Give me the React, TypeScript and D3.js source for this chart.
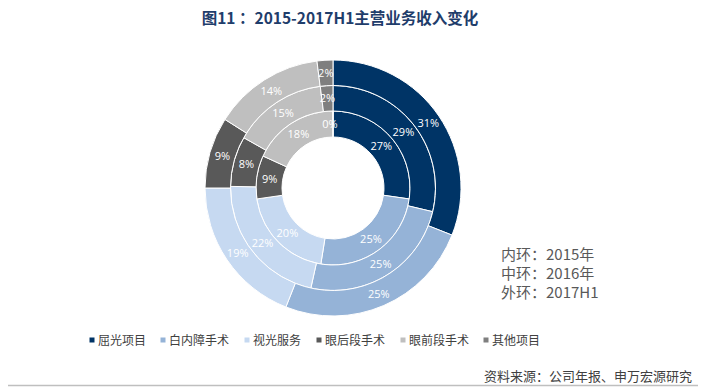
import React from "react";
import * as d3 from "d3";

const categories = ["屈光项目", "白内障手术", "视光服务", "眼后段手术", "眼前段手术", "其他项目"];
const colors = ["#003466", "#95b3d7", "#c6d9f1", "#595959", "#bfbfbf", "#7f7f7f"];
const inner2015 = [27, 25, 20, 9, 18, 0];
const middle2016 = [29, 25, 22, 8, 15, 2];
const outer2017H1 = [31, 25, 19, 9, 14, 2];
const ringNotes = ["内环：2015年", "中环：2016年", "外环：2017H1"];

const W = 706;
const H = 387;
const cx = 333;
const cy = 188;
const rings = [
  { data: inner2015, r0: 51, r1: 77 },
  { data: middle2016, r0: 77, r1: 102.5 },
  { data: outer2017H1, r0: 102.5, r1: 128 },
];
const legendX = [92, 163, 247, 319, 403, 486];
const font = "'Noto Sans CJK SC', 'Noto Sans', sans-serif";

export default function App() {
  const pie = d3.pie<number>().sort(null).value((d) => d);
  return (
    <svg width={W} height={H} style={{ position: "absolute", left: 0, top: 0, background: "#fff" }} fontFamily={font}>
      <text x={340} y={24} textAnchor="middle" fontSize={15.5} fontWeight="bold" fill="#1f3d6b">
        图11 ：2015-2017H1主营业务收入变化
      </text>
      <g transform={`translate(${cx},${cy})`}>
        {rings.map((ring, ri) => {
          const arcs = pie(ring.data);
          const arc = d3.arc<d3.PieArcDatum<number>>().innerRadius(ring.r0).outerRadius(ring.r1);
          return (
            <g key={ri}>
              {arcs.map((a, i) => (
                <path key={i} d={arc(a) || ""} fill={colors[i]} stroke="#fff" strokeWidth={1} />
              ))}
              {arcs.map((a, i) => {
                const [x, y] = arc.centroid(a);
                return (
                  <text key={"t" + i} x={x - (a.value === 0 ? 3 : 0)} y={y} dy="0.35em" textAnchor="middle" fontSize={11} fill="#fff" fontFamily="'Open Sans', sans-serif">
                    {a.value}%
                  </text>
                );
              })}
            </g>
          );
        })}
      </g>
      {ringNotes.map((t, i) => (
        <text key={t} x={501} y={260 + i * 19} fontSize={15} fill="#595959">
          {t}
        </text>
      ))}
      {categories.map((c, i) => (
        <g key={c}>
          <rect x={legendX[i] - 2.5} y={337.5} width={5} height={5} fill={colors[i]} />
          <text x={legendX[i] + 6} y={344.5} fontSize={12} fill="#404040">
            {c}
          </text>
        </g>
      ))}
      <text x={692} y={381} textAnchor="end" fontSize={13} fill="#404040">
        资料来源：公司年报、申万宏源研究
      </text>
      <line x1={8} x2={698} y1={385.5} y2={385.5} stroke="#bfbfbf" strokeWidth={1.5} />
    </svg>
  );
}
